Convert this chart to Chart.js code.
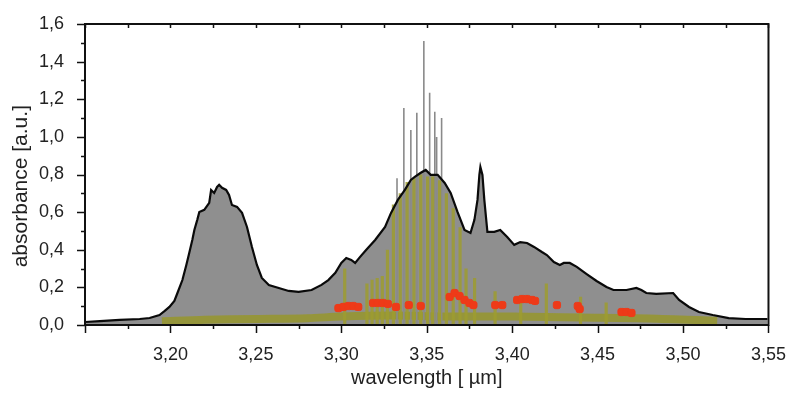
<!DOCTYPE html>
<html>
<head>
<meta charset="utf-8">
<script src="https://cdn.jsdelivr.net/npm/chart.js@4.4.1/dist/chart.umd.min.js"></script>
<style>
  html, body { margin: 0; padding: 0; background: #fff; }
  #wrap { width: 797px; height: 399px; }
</style>
</head>
<body>
<div id="wrap"><canvas id="c" width="797" height="399"></canvas></div>
<script>
// ---- data ----
const wavelength = [3.1500,3.1587,3.1703,3.1820,3.1878,3.1936,3.1965,3.1994,3.2023,3.2041,3.2070,3.2093,3.2110,3.2128,3.2140,3.2157,3.2169,3.2198,3.2227,3.2238,3.2256,3.2273,3.2285,3.2302,3.2326,3.2343,3.2360,3.2390,3.2419,3.2448,3.2477,3.2506,3.2535,3.2576,3.2634,3.2692,3.2750,3.2826,3.2884,3.2924,3.2965,3.3000,3.3029,3.3058,3.3081,3.3110,3.3145,3.3198,3.3256,3.3291,3.3331,3.3372,3.3407,3.3430,3.3465,3.3494,3.3523,3.3564,3.3605,3.3640,3.3680,3.3721,3.3756,3.3779,3.3797,3.3808,3.3814,3.3826,3.3837,3.3855,3.3895,3.3930,3.3971,3.4012,3.4047,3.4087,3.4128,3.4174,3.4203,3.4244,3.4279,3.4302,3.4337,3.4378,3.4436,3.4494,3.4552,3.4593,3.4669,3.4727,3.4756,3.4785,3.4843,3.4942,3.4977,3.5035,3.5093,3.5174,3.5267,3.5366,3.5494];
const absorbance = [0.016,0.021,0.027,0.032,0.037,0.053,0.074,0.096,0.128,0.170,0.239,0.319,0.383,0.452,0.505,0.559,0.601,0.612,0.649,0.718,0.702,0.734,0.745,0.729,0.718,0.691,0.638,0.628,0.596,0.521,0.415,0.319,0.250,0.213,0.197,0.181,0.176,0.186,0.213,0.239,0.277,0.330,0.356,0.346,0.330,0.362,0.399,0.452,0.521,0.596,0.665,0.718,0.771,0.787,0.809,0.824,0.798,0.798,0.755,0.702,0.601,0.505,0.489,0.559,0.665,0.798,0.840,0.798,0.665,0.495,0.495,0.505,0.468,0.426,0.441,0.436,0.415,0.388,0.372,0.335,0.319,0.330,0.330,0.309,0.271,0.234,0.202,0.186,0.186,0.197,0.186,0.170,0.165,0.170,0.133,0.096,0.069,0.053,0.037,0.032,0.032];

const spikeX = [3.3326,3.3366,3.3407,3.3442,3.3483,3.3517,3.3547,3.3558,3.3587];
const spikeY = [0.78,1.154,1.037,1.128,1.51,1.234,1.133,1.00,1.10];

const stripeX = [3.302,3.315,3.318,3.321,3.324,3.327,3.3305,3.3345,3.3385,3.3425,3.3465,3.3505,3.3535,3.3575,3.3615,3.3655,3.3695,3.373,3.378,3.390,3.405,3.420,3.440,3.455];
const stripeY = [0.30,0.22,0.24,0.25,0.26,0.40,0.64,0.70,0.76,0.78,0.80,0.79,0.79,0.77,0.70,0.62,0.52,0.30,0.25,0.18,0.16,0.22,0.15,0.12];

const redX = [3.2983,3.3012,3.3041,3.3070,3.3099,3.3186,3.3215,3.3244,3.3273,3.3320,3.3395,3.3465,3.3634,3.3663,3.3692,3.3721,3.3750,3.3773,3.3901,3.3942,3.4029,3.4058,3.4087,3.4116,3.4134,3.4262,3.4384,3.4395,3.4640,3.4669,3.4698];
const redY = [0.090,0.096,0.101,0.101,0.096,0.117,0.117,0.117,0.112,0.096,0.106,0.101,0.149,0.170,0.154,0.133,0.117,0.106,0.106,0.106,0.133,0.138,0.138,0.133,0.128,0.106,0.101,0.085,0.069,0.069,0.064];

const bandX = [3.195,3.22,3.25,3.28,3.30,3.33,3.36,3.40,3.44,3.48,3.52];
const bandY = [0.020,0.028,0.032,0.036,0.045,0.050,0.045,0.045,0.040,0.035,0.022];

const xTickValues = [3.15,3.20,3.25,3.30,3.35,3.40,3.45,3.50,3.55];
const yTickValues = [0.0,0.2,0.4,0.6,0.8,1.0,1.2,1.4,1.6];

// ---- build datasets ----
const pts = (xs, ys) => xs.map((x, i) => ({x, y: ys[i]}));
const verticals = (xs, ys) => {
  const out = [];
  xs.forEach((x, i) => { out.push({x, y: 0}, {x, y: ys[i]}, {x, y: null}); });
  return out;
};
const comma = (v, d) => v.toFixed(d).replace('.', ',');

const boxTicks = {
  id: 'boxTicks',
  afterDatasetsDraw(chart) {
    const {ctx, chartArea: a, scales: {x, y}} = chart;
    ctx.save();
    ctx.strokeStyle = '#111';
    ctx.lineWidth = 2;
    ctx.strokeRect(a.left, a.top, a.right - a.left, a.bottom - a.top);
    ctx.lineWidth = 1.5;
    ctx.beginPath();
    for (let i = 0; i <= 16; i++) {
      const v = 3.15 + i * 0.025;
      const px = Math.round(x.getPixelForValue(v)) + 0.5;
      const major = i % 2 === 0;
      ctx.moveTo(px, a.bottom); ctx.lineTo(px, a.bottom + (major ? 8 : 4));
      ctx.moveTo(px, a.top); ctx.lineTo(px, a.top + 4);
    }
    for (let i = 0; i <= 16; i++) {
      const v = i * 0.1;
      const py = Math.round(y.getPixelForValue(v)) + 0.5;
      const major = i % 2 === 0;
      ctx.moveTo(a.left, py); ctx.lineTo(a.left - (major ? 8 : 4), py);
    }
    ctx.stroke();
    ctx.restore();
  }
};

const font = 'Liberation Sans, Arial, sans-serif';

new Chart(document.getElementById('c'), {
  type: 'line',
  data: {
    datasets: [
      { // black outline on top
        data: pts(wavelength, absorbance),
        borderColor: '#0a0a0a', borderWidth: 2.2, fill: false,
        pointRadius: 0, tension: 0, order: 0
      },
      { // red blobs
        type: 'scatter',
        data: pts(redX, redY),
        backgroundColor: '#ee3a18', borderColor: '#ee3a18',
        pointRadius: 4.2, pointStyle: 'rectRounded', order: 1
      },
      { // olive stripes
        data: verticals(stripeX, stripeY),
        borderColor: 'rgba(158,156,48,0.85)', borderWidth: 3.2,
        pointRadius: 0, fill: false, spanGaps: false, order: 2
      },
      { // grey spikes
        data: verticals(spikeX, spikeY),
        borderColor: '#8a8a8a', borderWidth: 1.6,
        pointRadius: 0, fill: false, spanGaps: false, order: 3
      },
      { // olive baseline band
        data: pts(bandX, bandY),
        borderColor: 'rgba(150,150,45,0.85)', borderWidth: 8,
        pointRadius: 0, fill: false, tension: 0.3, order: 4
      },
      { // grey fill
        data: pts(wavelength, absorbance),
        borderWidth: 0, borderColor: 'rgba(0,0,0,0)',
        backgroundColor: '#8f8f8f', fill: 'origin',
        pointRadius: 0, tension: 0, order: 5
      }
    ]
  },
  options: {
    responsive: false,
    animation: false,
    events: [],
    layout: { padding: { top: 24, right: 25, left: 0, bottom: 0 } },
    plugins: { legend: { display: false }, tooltip: { enabled: false } },
    scales: {
      x: {
        type: 'linear', min: 3.15, max: 3.55,
        afterFit: s => { s.height = 74; },
        afterBuildTicks: s => { s.ticks = xTickValues.map(v => ({value: v})); },
        grid: { display: false }, border: { display: false },
        ticks: {
          padding: 11, color: '#222', maxRotation: 0, autoSkip: false,
          font: { family: font, size: 18 },
          callback: v => (Math.abs(v - 3.15) < 1e-6 ? '' : comma(v, 2))
        },
        title: {
          display: true, text: 'wavelength [ µm]', color: '#222',
          font: { family: font, size: 20 }, padding: { top: 0, bottom: 9 }
        }
      },
      y: {
        min: 0, max: 1.6,
        afterFit: s => { s.width = 85; },
        afterBuildTicks: s => { s.ticks = yTickValues.map(v => ({value: v})); },
        grid: { display: false }, border: { display: false },
        ticks: {
          padding: 13, color: '#222', autoSkip: false,
          font: { family: font, size: 18 },
          callback: v => comma(v, 1)
        },
        title: {
          display: true, text: 'absorbance [a.u.]    ', color: '#222',
          font: { family: font, size: 21 }, padding: { top: 9, bottom: 0 }
        }
      }
    }
  },
  plugins: [boxTicks]
});
</script>
</body>
</html>
